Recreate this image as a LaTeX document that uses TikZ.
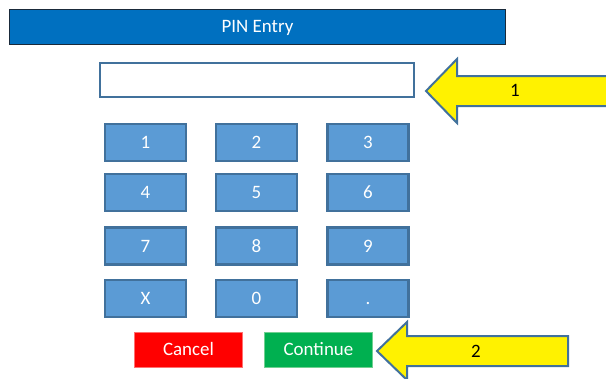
\documentclass[tikz,border=0pt]{standalone}
\usepackage{fontspec}
\setmainfont{Carlito}
\begin{document}
\begin{tikzpicture}[x=1bp,y=-1bp,
  txt/.style={font=\fontsize{19}{22}\selectfont, text height=12.2bp, text depth=0bp},
  keybox/.style={draw=keyedge, fill=keyfill, line width=2.4bp, minimum width=81bp, minimum height=37bp, inner sep=0pt, text=white, txt},
  titlebar/.style={draw=titleedge, fill=titlefill, line width=1bp, minimum width=495bp, minimum height=35bp, inner sep=0pt, text=white, txt},
  inputbox/.style={draw=keyedge, fill=white, line width=2bp, minimum width=314bp, minimum height=34bp, inner sep=0pt},
  actbtn/.style={line width=0.8bp, minimum width=108bp, minimum height=35bp, inner sep=0pt, text=white, txt},
  callout/.style={draw=keyedge, fill=yellow, line width=2bp, line join=miter},
  calllabel/.style={text=black, txt, inner sep=0pt}
]
\definecolor{titlefill}{HTML}{0070C0}
\definecolor{titleedge}{HTML}{1A2A3A}
\definecolor{keyfill}{HTML}{5B9BD5}
\definecolor{keyedge}{HTML}{41719C}
\definecolor{cancelfill}{HTML}{FF0000}
\definecolor{canceledge}{HTML}{FF7070}
\definecolor{contfill}{HTML}{00B050}
\definecolor{contedge}{HTML}{70D090}
\useasboundingbox (0,0) rectangle (606,378);
\clip (0,0) rectangle (606,378);
\fill[white] (0,0) rectangle (606,378);

\node[titlebar] (title) at (257.5,26.5) {PIN Entry};
\node[inputbox] (input) at (257,80) {};

\node[keybox] (k1) at (145.5,142.5) {1};
\node[keybox] (k2) at (256.5,142.5) {2};
\node[keybox] (k3) at (368,142.5) {3};
\node[keybox] (k4) at (145.5,192.5) {4};
\node[keybox] (k5) at (256.5,192.5) {5};
\node[keybox] (k6) at (368,192.5) {6};
\node[keybox] (k7) at (145.5,246) {7};
\node[keybox] (k8) at (256.5,246) {8};
\node[keybox] (k9) at (368,246) {9};
\node[keybox] (kx) at (145.5,298.5) {X};
\node[keybox] (k0) at (256.5,298.5) {0};
\node[keybox] (kdot) at (368,298.5) {.};

\node[actbtn, draw=canceledge, fill=cancelfill] (cancel) at (188.5,349.5) {Cancel};
\node[actbtn, draw=contedge, fill=contfill] (continue) at (318.5,349.5) {Continue};

% callout arrow 1
\draw[callout] (426,91) -- (457,59) -- (457,76) -- (620,76) -- (620,106) -- (457,106) -- (457,123) -- cycle;
\node[calllabel] (l1) at (515,90) {1};

% callout arrow 2
\draw[callout] (377,351) -- (407,322) -- (407,336) -- (568,336) -- (568,366) -- (407,366) -- (407,380) -- cycle;
\node[calllabel] (l2) at (476,351) {2};
\end{tikzpicture}
\end{document}
